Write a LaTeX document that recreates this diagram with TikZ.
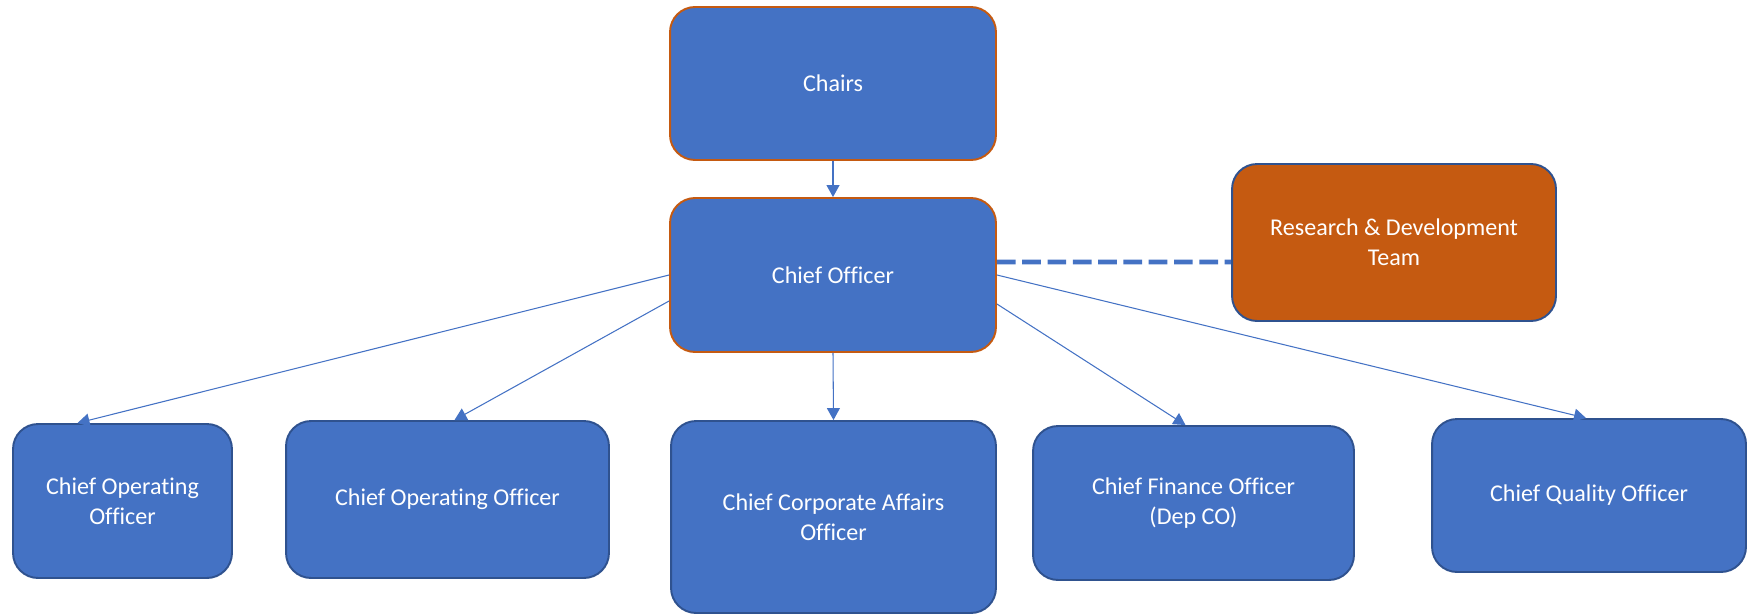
\documentclass[tikz,border=0pt]{standalone}
\usepackage{fontspec}
\setmainfont{Carlito}[Ligatures=NoCommon]
\usepackage{tikz}
\usetikzlibrary{positioning,calc,arrows.meta}

\definecolor{officeblue}{HTML}{4472C4}
\definecolor{darkblue}{HTML}{2F528F}
\definecolor{rust}{HTML}{C55A11}

\begin{document}
\begin{tikzpicture}[x=0.02cm, y=-0.02cm,
    box/.style={draw=darkblue, line width=1.1pt, fill=officeblue, rounded corners=0.5cm,
        text=white, align=center, inner sep=0pt, font=\fontsize{13.7}{17}\selectfont},
    headbox/.style={box, draw=rust},
    rdbox/.style={box, fill=rust},
    link/.style={draw=officeblue, line width=0.6pt, -{Triangle[length=0.24cm,width=0.26cm]}},
    dashlink/.style={draw=officeblue, line width=2.6pt, dash pattern=on 0.374cm off 0.132cm}]

    \useasboundingbox (0,0) rectangle (1748,615);

    % top of the chart
    \node[headbox, minimum width=6.52cm, minimum height=3.06cm] (chairs) at (833,83.5) {Chairs};
    \node[headbox, minimum width=6.52cm, minimum height=3.08cm] (chief) at (833,275) {Chief Officer};
    \node[rdbox, minimum width=6.48cm, minimum height=3.14cm] (rnd) at (1394,242.5) {Research \& Development\\Team};

    % the officers
    \node[box, minimum width=4.38cm, minimum height=3.08cm] (coo) at (122.5,501) {Chief Operating\\Officer};
    \node[box, minimum width=6.46cm, minimum height=3.14cm] (cooo) at (447.5,499.5) {Chief Operating Officer};
    \node[box, minimum width=6.5cm, minimum height=3.84cm] (ccao) at (833.5,517) {Chief Corporate Affairs\\Officer};
    \node[box, minimum width=6.42cm, minimum height=3.08cm] (cfo) at (1193.5,503) {Chief Finance Officer\\(Dep CO)};
    \node[box, minimum width=6.28cm, minimum height=3.06cm] (cqo) at (1589,495.5) {Chief Quality Officer};

    % connectors
    \path[link] (chairs.south) -- (chief.north);
    \path[dashlink] ($(chief.east)+(0,-13)$) -- ($(rnd.west)+(0,19.5)$);
    \path[link] (chief.west) -- ($(coo.north)+(-45,0)$);
    \path[link] ($(chief.west)+(0,26)$) -- ($(cooo.north)+(7,0)$);
    \path[link] (chief.south) -- (ccao.north);
    \path[link] ($(chief.east)+(0,29)$) -- ($(cfo.north)+(-8,0)$);
    \path[link] (chief.east) -- ($(cqo.north)+(-3,0)$);

\end{tikzpicture}
\end{document}
